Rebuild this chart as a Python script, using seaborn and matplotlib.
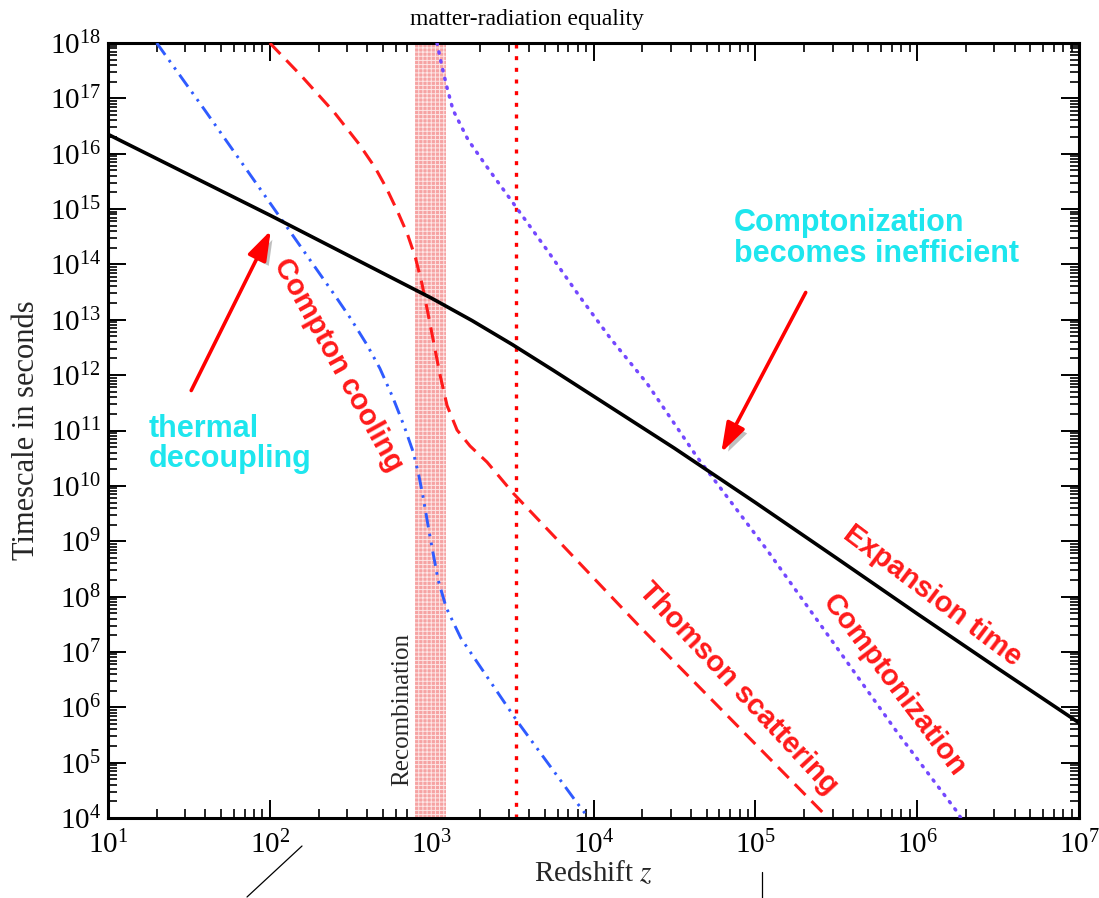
import numpy as np
import pandas as pd
import matplotlib
matplotlib.use("Agg")
import matplotlib.pyplot as plt
import seaborn as sns
from matplotlib.ticker import LogLocator, NullFormatter
from matplotlib.patches import FancyArrowPatch
from matplotlib.lines import Line2D
import matplotlib.patheffects as pe

# ---------------- data ----------------
expansion_z = [10, 31.6, 100, 316, 1000, 1778, 3160, 5623, 1e4, 3.16e4, 1e5, 3.16e5,
               1e6, 3.16e6, 1e7]
expansion_t = [2.24e16, 4.17e15, 7.76e14, 1.38e14, 2.45e13, 9.66e12, 3.55e12, 1.23e12,
               4.17e11, 4.79e10, 5.0e9, 5.0e8, 4.9e7, 5.0e6, 5.25e5]

cooling_z = [20, 39.8, 119, 251, 316, 398, 479, 575, 676, 767, 832, 885, 977, 1096,
             1230, 1514, 3373, 7925, 9330]
cooling_t = [1e18, 6.03e16, 6.31e14, 2.82e13, 1.05e13, 3.55e12, 1.32e12, 3.98e11,
             1.20e11, 4.17e10, 1.58e10, 6.31e9, 1.20e9, 2.0e8, 6.31e7, 1.78e7, 5.62e5,
             1.86e4, 1e4]

thomson_z = [100, 158.5, 251, 355, 447, 525, 617, 708, 794, 871, 944, 1021, 1127, 1245,
             1435, 1726, 2198, 3184, 19410, 281800]
thomson_t = [1e18, 2.45e17, 5.50e16, 1.51e16, 5.62e15, 2.40e15, 8.91e14, 3.55e14,
             1.32e14, 4.47e13, 1.41e13, 4.37e12, 1.0e12, 2.82e11, 1.02e11, 5.25e10,
             2.69e10, 7.41e9, 2.82e7, 1e4]

comptonization_z = [1079, 1159, 1245, 1355, 1679, 2198, 3184, 5164, 8260, 12680,
                    21430, 43650, 66990, 118300, 320600, 751600, 1.766e6, 1.862e6]
comptonization_t = [1e18, 3.72e17, 1.55e17, 6.17e16, 1.78e16, 5.75e15, 1.29e15,
                    1.82e14, 2.57e13, 4.68e12, 7.08e11, 3.31e10, 6.31e9, 6.92e8,
                    1.17e7, 3.55e5, 1.29e4, 1e4]

recombination_range = [790, 1230]
equality_z = 3300

x_limits = [1e1, 1e7]
y_limits = [1e4, 1e18]

# ---------------- style ----------------
sns.set_theme(style="ticks")
plt.rcParams['font.family'] = ['Liberation Serif', 'DejaVu Serif']
plt.rcParams['mathtext.fontset'] = 'stix'
plt.rcParams['hatch.linewidth'] = 0.7

W, H = 1099, 898
fig = plt.figure(figsize=(W / 100, H / 100), dpi=100)
L, R, T, B = 108, 1079, 43, 818
ax = fig.add_axes([L / W, 1 - B / H, (R - L) / W, (B - T) / H])


def ap(px, py):
    """pixel position in the figure -> axes fraction (for text placement)"""
    return ((px - L) / (R - L), (B - py) / (B - T))


RED = '#ff1a1a'
BLUE = '#2f5bff'
PURPLE = '#7448ff'
CYAN = '#1ee6ee'

# recombination band
ax.axvspan(recombination_range[0], recombination_range[1], facecolor='#f6a3a3',
           edgecolor='none', lw=0, zorder=1)
ax.axvspan(recombination_range[0], recombination_range[1], facecolor='none',
           edgecolor='#fde6e6', hatch='++++', lw=0, zorder=1.1)

# matter radiation equality
ax.axvline(equality_z, color='red', lw=2.4, linestyle=(0, (1.2, 2.3)), zorder=2)

# curves
sns.lineplot(x=expansion_z, y=expansion_t, ax=ax, color='black', lw=2.6,
             errorbar=None, zorder=5)
sns.lineplot(x=cooling_z, y=cooling_t, ax=ax, color=BLUE, lw=2.1,
             linestyle=(0, (5, 2.2, 0.9, 2.2, 0.9, 2.2)), errorbar=None, zorder=4)
sns.lineplot(x=thomson_z, y=thomson_t, ax=ax, color=RED, lw=2.2,
             linestyle=(0, (5, 2.8)), errorbar=None, zorder=4)
sns.lineplot(x=comptonization_z, y=comptonization_t, ax=ax, color=PURPLE, lw=2.5,
             linestyle=(0, (0.4, 2.2)), errorbar=None, zorder=4)
ax.lines[-1].set_dash_capstyle('round')

ax.set_xscale('log')
ax.set_yscale('log')
ax.set_xlim(*x_limits)
ax.set_ylim(*y_limits)

ax.xaxis.set_major_locator(LogLocator(base=10, numticks=100))
ax.yaxis.set_major_locator(LogLocator(base=10, numticks=100))
ax.xaxis.set_minor_locator(LogLocator(base=10, subs=np.arange(2, 10), numticks=100))
ax.yaxis.set_minor_locator(LogLocator(base=10, subs=np.arange(2, 10), numticks=100))
ax.xaxis.set_minor_formatter(NullFormatter())
ax.yaxis.set_minor_formatter(NullFormatter())

ax.tick_params(which='both', direction='in', top=True, right=True, colors='black')
ax.tick_params(which='major', length=13, width=1.4, labelsize=21)
ax.tick_params(which='minor', length=6.5, width=1.2)
ax.tick_params(axis='x', which='major', pad=9)
ax.tick_params(axis='y', which='major', pad=5)
for s in ax.spines.values():
    s.set_linewidth(2.2)
    s.set_color('black')

ax.set_xlabel('Redshift $z$', fontsize=21, labelpad=0)
ax.set_ylabel('Timescale in seconds', fontsize=22, labelpad=6)

# texts
fig.text(527 / W, 1 - 20 / H, 'matter-radiation equality', ha='center', va='center',
         fontsize=17, color='black')
ax.text(*ap(402, 709), 'Recombination', rotation=90, ha='center', va='center',
        fontsize=18, transform=ax.transAxes, zorder=6)

sans = ['Liberation Sans', 'DejaVu Sans']
ax.text(*ap(338, 365), 'Compton cooling', rotation=-61, ha='center', va='center',
        rotation_mode='anchor', fontsize=21, fontweight='bold', color=RED,
        family=sans, transform=ax.transAxes, zorder=6)
ax.text(*ap(149, 414), 'thermal\ndecoupling', ha='left', va='top', fontsize=22,
        fontweight='bold', color=CYAN, family=sans, linespacing=1.0,
        transform=ax.transAxes, zorder=6)
ax.text(*ap(734, 208), 'Comptonization\nbecomes inefficient', ha='left', va='top',
        fontsize=22, fontweight='bold', color=CYAN, family=sans, linespacing=1.05,
        transform=ax.transAxes, zorder=6)
ax.text(*ap(932, 596), 'Expansion time', rotation=-37, ha='center', va='center',
        rotation_mode='anchor', fontsize=21, fontweight='bold', color=RED,
        family=sans, transform=ax.transAxes, zorder=6)
ax.text(*ap(738, 688), 'Thomson scattering', rotation=-47, ha='center', va='center',
        rotation_mode='anchor', fontsize=21, fontweight='bold', color=RED,
        family=sans, transform=ax.transAxes, zorder=6)
ax.text(*ap(894, 685), 'Comptonization', rotation=-53, ha='center', va='center',
        rotation_mode='anchor', fontsize=21, fontweight='bold', color=RED,
        family=sans, transform=ax.transAxes, zorder=6)

shadow = [pe.withSimplePatchShadow(offset=(3, -3), shadow_rgbFace='black', alpha=0.25)]
for a, b in [((190, 393), (272, 228)), ((807, 290), (720, 455))]:
    arr = FancyArrowPatch(ap(*a), ap(*b), transform=ax.transAxes,
                          arrowstyle='-|>,head_length=0.9,head_width=0.3',
                          mutation_scale=20, color='red', lw=2.6, zorder=7,
                          path_effects=shadow)
    ax.add_patch(arr)

# stray marks below the axes
fig.add_artist(Line2D([247 / W, 302 / W], [1 - 897 / H, 1 - 846 / H], color='black',
                      lw=0.9, transform=fig.transFigure))
fig.add_artist(Line2D([762 / W, 762 / W], [1 - 872 / H, 1 - 898 / H], color='black',
                      lw=0.9, transform=fig.transFigure))

fig.savefig('out.png', dpi=100, facecolor='white')
